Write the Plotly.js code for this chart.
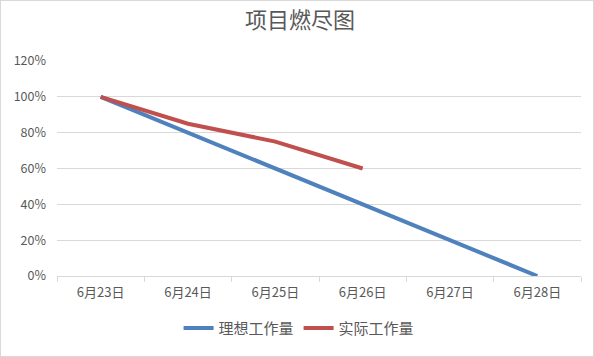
<!DOCTYPE html>
<html>
<head>
<meta charset="utf-8">
<script src="https://cdn.plot.ly/plotly-3.0.1.min.js"></script>
<style>
html,body{margin:0;padding:0;background:#fff;}
#wrap{position:relative;width:594px;height:357px;}
#chart{position:absolute;left:0;top:0;width:594px;height:357px;}
#frame{position:absolute;left:0;top:0;width:594px;height:357px;box-sizing:border-box;border:1px solid #D9D9D9;pointer-events:none;}
</style>
</head>
<body>
<div id="wrap"><div id="chart"></div><div id="frame"></div></div>
<script>
const categories = ["6月23日", "6月24日", "6月25日", "6月26日", "6月27日", "6月28日"];
const idealValues = [1.00, 0.80, 0.60, 0.40, 0.20, 0.00];
const actualCategories = ["6月23日", "6月24日", "6月25日", "6月26日"];
const actualValues = [1.00, 0.85, 0.75, 0.60];
const seriesNames = ["理想工作量", "实际工作量"];

const font = "'Noto Sans CJK SC', 'Microsoft YaHei', sans-serif";
const traces = [
  {x: categories, y: idealValues, name: seriesNames[0], type: "scatter", mode: "lines",
   line: {color: "#4F81BD", width: 4}},
  {x: actualCategories, y: actualValues, name: seriesNames[1], type: "scatter", mode: "lines",
   line: {color: "#C0504D", width: 4}}
];
const layout = {
  width: 594, height: 357,
  margin: {l: 57, r: 13, t: 61, b: 78},
  paper_bgcolor: "#fff", plot_bgcolor: "#fff",
  font: {family: font, color: "#595959", size: 12},
  title: {text: "项目燃尽图", font: {family: font, size: 22, color: "#595959"},
          x: 0.505, xanchor: "center", y: 0.944, yanchor: "middle", yref: "container"},
  xaxis: {type: "category", categoryorder: "array", categoryarray: categories,
          range: [-0.5, categories.length - 0.5],
          showgrid: false, showline: true, linecolor: "#D9D9D9", linewidth: 1,
          ticks: "outside", tickson: "boundaries", ticklen: 5, tickcolor: "#D9D9D9",
          ticklabelstandoff: 4,
          tickfont: {family: font, size: 13, color: "#595959"}, zeroline: false, fixedrange: true},
  yaxis: {range: [0, 1.2], dtick: 0.2, tick0: 0, tickformat: ".0%",
          showgrid: true, gridcolor: "#D9D9D9", gridwidth: 1, zeroline: false, showline: false,
          ticks: "", ticklabelstandoff: 10,
          tickfont: {family: font, size: 12.5, color: "#595959"}, fixedrange: true},
  showlegend: true,
  legend: {orientation: "h", x: 0.462, xanchor: "center", y: -0.243, yanchor: "middle",
           font: {family: font, size: 15, color: "#595959"}, itemwidth: 30}
};
Plotly.newPlot("chart", traces, layout, {staticPlot: true, displayModeBar: false});
</script>
</body>
</html>
